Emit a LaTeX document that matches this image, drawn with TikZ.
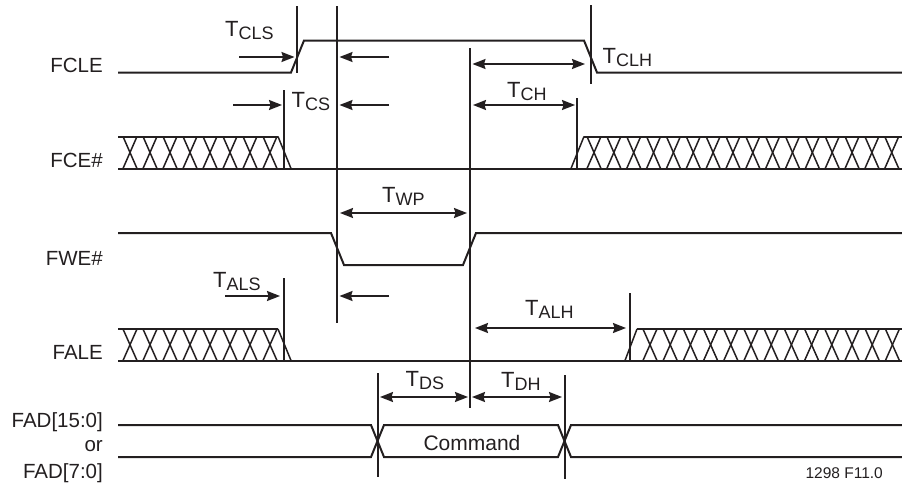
\documentclass[tikz,border=0pt]{standalone}
\usepackage{fontspec}
\setmainfont{Liberation Sans}
\usetikzlibrary{arrows.meta}
\definecolor{ink}{HTML}{231F20}
\newcommand{\tmark}[2]{{\fontsize{22}{24}\selectfont #1}\raisebox{-3pt}{\fontsize{18}{20}\selectfont #2}}
\tikzset{
  x=1pt, y=-1pt,
  signal/.style={draw=ink, line width=2pt, line join=miter},
  guide/.style={draw=ink, line width=1.9pt},
  hatch/.style={draw=ink, line width=1.5pt},
  measure/.style={draw=ink, line width=1.8pt, -{Stealth[length=13pt,width=10pt,inset=1.5pt]}},
  bothways/.style={draw=ink, line width=1.8pt, {Stealth[length=13pt,width=10pt,inset=1.5pt]}-{Stealth[length=13pt,width=10pt,inset=1.5pt]}},
  sigtext/.style={anchor=base east, inner sep=0pt, text=ink, font=\fontsize{20.5}{24}\selectfont},
  timetext/.style={anchor=base west, inner sep=0pt, text=ink},
}
\begin{document}
\begin{tikzpicture}
\useasboundingbox (0,0) rectangle (902,485);
% signal names
\node[sigtext] (fcle) at (103,72.5) {FCLE};
\node[sigtext] (fce) at (103,167) {FCE\#};
\node[sigtext] (fwe) at (103,265) {FWE\#};
\node[sigtext] (fale) at (103,359) {FALE};
\node[sigtext] (fad15) at (103,427) {FAD[15:0]};
\node[sigtext] (fador) at (103,451) {or};
\node[sigtext] (fad7) at (103,478) {FAD[7:0]};
% FCLE
\draw[signal] (118,72.5) -- (291,72.5) -- (304,40.5) -- (584,40.5) -- (597,72.5) -- (902,72.5);
% FCE#
\draw[signal] (118,168.5) -- (902,168.5);
\draw[signal] (118,136.5) -- (278,136.5);
\draw[hatch] (278,136.5) -- (291,168.5);
\foreach \c in {0,...,7} {
  \draw[hatch] ({130+20*\c-7},136.5) -- ({130+20*\c+7},168.5);
  \draw[hatch] ({130+20*\c-7},168.5) -- ({130+20*\c+7},136.5);
}
\draw[hatch] (571,168.5) -- (584,136.5);
\draw[signal] (584,136.5) -- (902,136.5);
\foreach \c in {0,...,15} {
  \draw[hatch] ({594+19.85*\c-7},136.5) -- ({594+19.85*\c+7},168.5);
  \draw[hatch] ({594+19.85*\c-7},168.5) -- ({594+19.85*\c+7},136.5);
}
% FWE#
\draw[signal] (118,233) -- (331,233) -- (344,265) -- (463,265) -- (476,233) -- (902,233);
% FALE
\draw[signal] (118,360.5) -- (902,360.5);
\draw[signal] (118,329) -- (278,329);
\draw[hatch] (278,329) -- (291,360.5);
\foreach \c in {0,...,7} {
  \draw[hatch] ({130+20*\c-7},329) -- ({130+20*\c+7},360.5);
  \draw[hatch] ({130+20*\c-7},360.5) -- ({130+20*\c+7},329);
}
\draw[hatch] (625,360.5) -- (637,329);
\draw[signal] (637,329) -- (902,329);
\foreach \c in {0,...,12} {
  \draw[hatch] ({650+20.2*\c-7},329) -- ({650+20.2*\c+7},360.5);
  \draw[hatch] ({650+20.2*\c-7},360.5) -- ({650+20.2*\c+7},329);
}
% FAD
\draw[signal] (118,425) -- (371,425) -- (384,457) -- (558,457) -- (571,425) -- (902,425);
\draw[signal] (118,457) -- (371,457) -- (384,425) -- (558,425) -- (571,457) -- (902,457);
\node[inner sep=0pt, anchor=base, text=ink, font=\fontsize{21}{24}\selectfont] (cmd) at (472,450) {Command};
\node[inner sep=0pt, anchor=base east, text=ink, font=\fontsize{15.5}{18}\selectfont] (fig) at (883,478) {1298 F11.0};
% guides
\draw[guide] (297,6) -- (297,73);
\draw[guide] (337,6) -- (337,323);
\draw[guide] (470,48) -- (470,408);
\draw[guide] (591,5) -- (591,84);
\draw[guide] (577,98) -- (577,168);
\draw[guide] (284,90) -- (284,168);
\draw[guide] (284,278) -- (284,360);
\draw[guide] (630,293) -- (630,360);
\draw[guide] (378,373) -- (378,477);
\draw[guide] (565,375) -- (565,479);
% measures
\draw[measure] (239,57) -- (294.5,57);
\draw[measure] (389,57) -- (339.5,57);
\draw[measure] (233,105) -- (282,105);
\draw[measure] (389,105) -- (339.5,105);
\draw[measure] (225,296) -- (280,296);
\draw[measure] (389,296) -- (339.5,296);
\draw[bothways] (472.5,64) -- (585,64);
\draw[bothways] (473,105) -- (575,105);
\draw[bothways] (340,213) -- (467,213);
\draw[bothways] (475,328) -- (626,328);
\draw[bothways] (380,397) -- (468,397);
\draw[bothways] (472,397) -- (562,397);
% timing labels
\node[timetext] (tcls) at (225,36) {\tmark{T}{CLS}};
\node[timetext] (tcs) at (291.5,107) {\tmark{T}{CS}};
\node[timetext] (tclh) at (602.5,63) {\tmark{T}{CLH}};
\node[timetext] (tch) at (507,97) {\tmark{T}{CH}};
\node[timetext] (twp) at (382,202) {\tmark{T}{WP}};
\node[timetext] (tals) at (213,287) {\tmark{T}{ALS}};
\node[timetext] (talh) at (525,315.5) {\tmark{T}{ALH}};
\node[timetext] (tds) at (405.5,386.5) {\tmark{T}{DS}};
\node[timetext] (tdh) at (501,387) {\tmark{T}{DH}};
\end{tikzpicture}
\end{document}
